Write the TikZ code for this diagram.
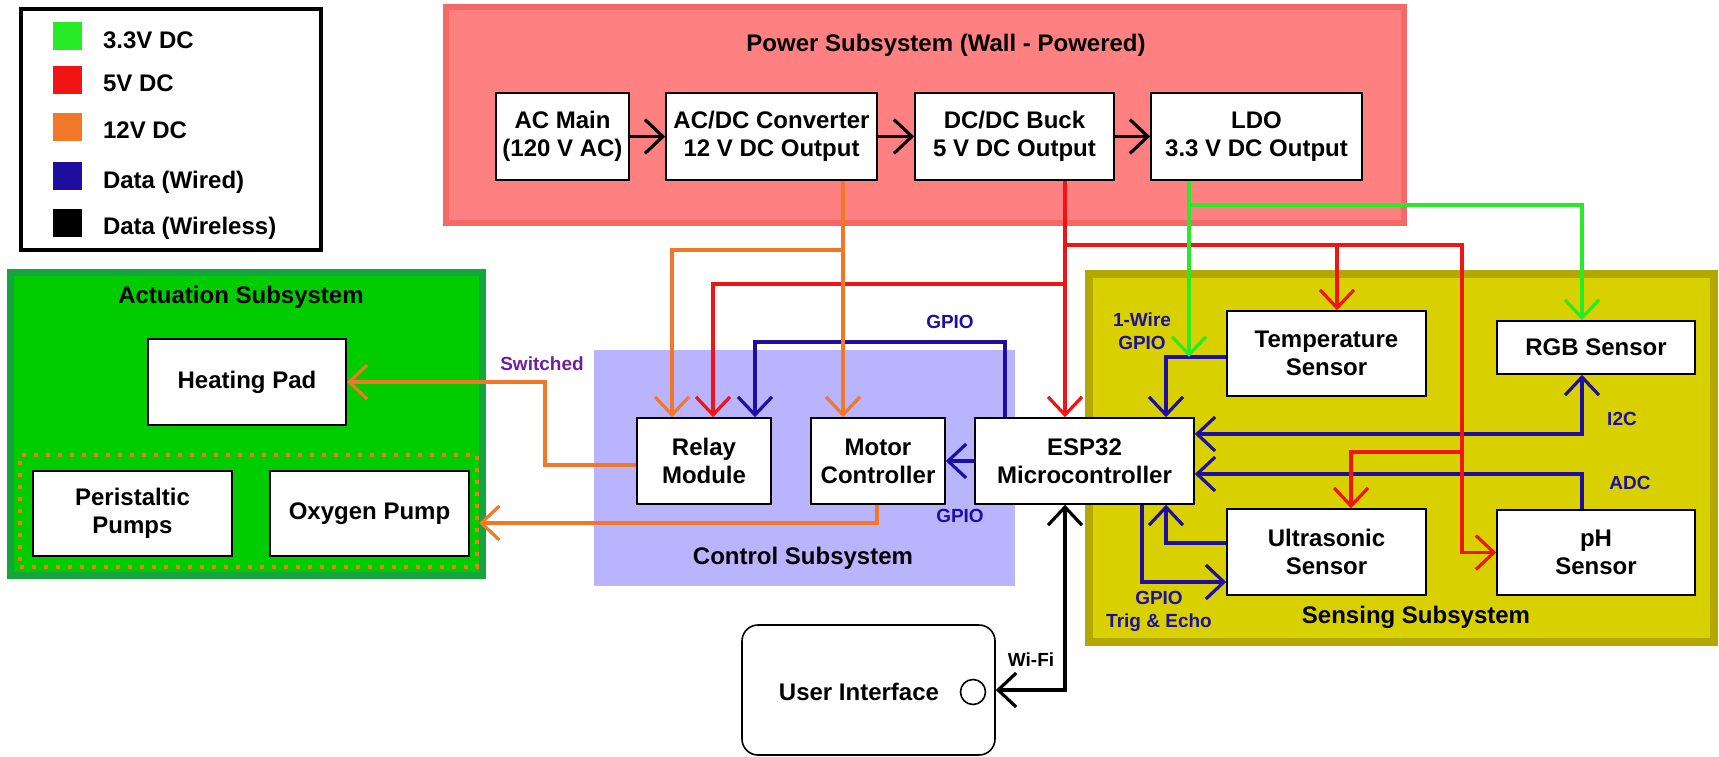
\documentclass[tikz,border=0pt]{standalone}
\usepackage{fontspec}
\setmainfont{Liberation Sans}
\usetikzlibrary{arrows.meta}
\definecolor{vthree}{RGB}{40,235,40}
\definecolor{vfive}{RGB}{240,20,20}
\definecolor{vtwelve}{RGB}{240,120,40}
\definecolor{wired}{RGB}{30,15,160}
\definecolor{switchcol}{RGB}{110,30,160}
\definecolor{powfill}{RGB}{255,128,128}
\definecolor{powline}{RGB}{244,104,104}
\definecolor{actfill}{RGB}{0,204,0}
\definecolor{actline}{RGB}{20,165,60}
\definecolor{ctrlfill}{RGB}{186,180,255}
\definecolor{sensfill}{RGB}{217,208,0}
\definecolor{sensline}{RGB}{180,168,0}
\tikzset{
  >={Straight Barb[length=9pt,width=17pt]},
  blk/.style={draw, fill=white, line width=0.8pt, align=center, inner sep=0pt,
    font=\bfseries\fontsize{12}{14}\selectfont},
  grptitle/.style={font=\bfseries\fontsize{12}{14}\selectfont},
  lbl/.style={font=\bfseries\fontsize{9.5}{11.5}\selectfont, text=wired, align=center},
  pumpgrp/.style={draw=vtwelve, line width=2pt, dash pattern=on 2pt off 4pt, inner sep=0pt},
  wire/.style={line width=1.6pt},
  pw3/.style={wire, draw=vthree},
  pw5/.style={wire, draw=vfive},
  pw12/.style={wire, draw=vtwelve},
  data/.style={wire, draw=wired},
  wless/.style={wire, draw=black}
}
\begin{document}
\begin{tikzpicture}[x=0.5pt, y=-0.5pt]
\useasboundingbox (0,0) rectangle (1719,756);
% subsystem panels
\draw[powline, fill=powfill, line width=3pt] (446,7) rectangle (1404,223);
\draw[actline, fill=actfill, line width=3.5pt] (10.5,272.5) rectangle (482.5,575.5);
\fill[ctrlfill] (594,350) rectangle (1015,586);
\draw[sensline, fill=sensfill, line width=4pt] (1089,274) rectangle (1714,642);
\node[grptitle] (powtitle) at (946,45) {Power Subsystem (Wall - Powered)};
\node[grptitle] (acttitle) at (241,297) {Actuation Subsystem};
\node[grptitle] (ctrltitle) at (803,558) {Control Subsystem};
\node[grptitle] (senstitle) at (1416,617) {Sensing Subsystem};
% legend
\draw[line width=2pt] (21,9) rectangle (321,250);
\foreach \i/\col/\txt/\yy in {1/vthree/3.3V DC/36, 2/vfive/5V DC/79.5, 3/vtwelve/12V DC/126.5,
    4/wired/Data (Wired)/176, 5/black/Data (Wireless)/222.5}{
  \node[fill=\col, minimum width=14.5pt, minimum height=14pt, inner sep=0pt] (sw\i) at (67.5,\yy) {};
  \node[grptitle, anchor=base west] (leg\i) at (96,\yy+12) {\txt};
}
% power chain
\node[blk, minimum width=66.5pt, minimum height=43.5pt] (acmain) at (562.5,136.5) {AC Main\\(120 V AC)};
\node[blk, minimum width=105.5pt, minimum height=43.5pt] (acdc) at (771.5,136.5) {AC/DC Converter\\12 V DC Output};
\node[blk, minimum width=99.5pt, minimum height=43.5pt] (dcdc) at (1014.5,136.5) {DC/DC Buck\\5 V DC Output};
\node[blk, minimum width=105.5pt, minimum height=43.5pt] (ldo) at (1256.5,136.5) {LDO\\3.3 V DC Output};
% control
\node[blk, minimum width=67pt, minimum height=43pt] (relay) at (704,461) {Relay\\Module};
\node[blk, minimum width=67pt, minimum height=43pt] (motor) at (878,461) {Motor\\Controller};
\node[blk, minimum width=109.5pt, minimum height=43pt] (esp) at (1084.5,461) {ESP32\\Microcontroller};
% actuation
\node[blk, minimum width=99pt, minimum height=43pt] (heat) at (247,382) {Heating Pad};
\node[pumpgrp, minimum width=228.5pt, minimum height=56pt] (pumps) at (248.5,511) {};
\node[blk, minimum width=99.5pt, minimum height=42.5pt] (peri) at (132.5,513.5) {Peristaltic\\Pumps};
\node[blk, minimum width=99.5pt, minimum height=42.5pt] (oxy) at (369.5,513.5) {Oxygen Pump};
% sensing
\node[blk, minimum width=99.5pt, minimum height=42.5pt] (temp) at (1326.5,353.5) {Temperature\\Sensor};
\node[blk, minimum width=99pt, minimum height=26.5pt] (rgb) at (1596,347.5) {RGB Sensor};
\node[blk, minimum width=99.5pt, minimum height=43pt] (ultra) at (1326.5,552) {Ultrasonic\\Sensor};
\node[blk, minimum width=99pt, minimum height=42.5pt] (ph) at (1596,552.5) {pH\\Sensor};
% user interface
\node[blk, rounded corners=8pt, minimum width=126.5pt, minimum height=65pt] (ui) at (868.5,690) {};
\node[grptitle] (uitext) at (859,692) {User Interface};
\node[draw, circle, line width=0.8pt, minimum size=12.5pt, inner sep=0pt] (uibtn) at (973,692) {};
% bends and junctions
\coordinate (oj) at (843,250);
\coordinate (orelay) at (672,250);
\coordinate (oheat) at (545,465);
\coordinate (oxyj) at (877,523);
\coordinate (rj) at (1065,245);
\coordinate (rrelay) at (713,284);
\coordinate (rtemp) at (1337,245);
\coordinate (rph) at (1462,245);
\coordinate (rultra) at (1351,452);
\coordinate (gj) at (1189,205);
\coordinate (grgb) at (1582,205);
\coordinate (bwire) at (1166,357);
\coordinate (bgpio) at (1005,342);
\coordinate (brelay) at (755,342);
\coordinate (bi2c) at (1582,434);
\coordinate (badc) at (1582,474);
\coordinate (becho) at (1166,543);
\coordinate (btrig) at (1142,582);
\coordinate (wifi) at (1065,690);
% power chain arrows
\draw[wless, ->] (acmain) -- (acdc);
\draw[wless, ->] (acdc) -- (dcdc);
\draw[wless, ->] (dcdc) -- (ldo);
% wired data
\draw[data, ->] (esp.north -| bgpio) -- (bgpio) -- (brelay) -- (relay.north -| brelay);
\draw[data, ->] (esp.west) -- (motor.east);
\draw[data, ->] (temp.west |- bwire) -- (bwire) -- (esp.north -| bwire);
\draw[data, <->] (esp.east |- bi2c) -- (bi2c) -- (rgb.south -| bi2c);
\draw[data, ->] (ph.north -| badc) -- (badc) -- (esp.east |- badc);
\draw[data, ->] (ultra.west |- becho) -- (becho) -- (esp.south -| becho);
\draw[data, ->] (esp.south -| btrig) -- (btrig) -- (ultra.west |- btrig);
% 5 V
\draw[pw5, ->] (dcdc.south -| rj) -- (esp.north -| rj);
\draw[pw5, ->] (rj |- rrelay) -- (rrelay) -- (relay.north -| rrelay);
\draw[pw5, ->] (rj) -- (rtemp) -- (temp.north -| rtemp);
\draw[pw5, ->] (rtemp) -- (rph) |- (ph.west);
\draw[pw5, ->] (rph |- rultra) -- (rultra) -- (ultra.north -| rultra);
% 3.3 V
\draw[pw3, ->] (ldo.south -| gj) -- (gj |- bwire);
\draw[pw3, ->] (gj) -- (grgb) -- (rgb.north -| grgb);
% 12 V
\draw[pw12, ->] (acdc.south -| oj) -- (motor.north -| oj);
\draw[pw12, ->] (oj) -- (orelay) -- (relay.north -| orelay);
\draw[pw12, ->] (relay.west |- oheat) -- (oheat) |- (heat.east);
\draw[pw12, ->] (motor.south -| oxyj) -- (oxyj) -- (pumps.east |- oxyj);
% wireless
\draw[wless, <->] (ui.east |- wifi) -- (wifi) -- (esp.south -| wifi);
% labels
\node[lbl, text=switchcol] (lswitch) at (542,364) {Switched};
\node[lbl] (lgpiorelay) at (950,322) {GPIO};
\node[lbl] (lgpiomotor) at (960,516) {GPIO};
\node[lbl] (lonewire) at (1142,331) {1-Wire\\GPIO};
\node[lbl] (ltrig) at (1159,611) {GPIO\\Trig \& Echo};
\node[lbl] (li2c) at (1622,419) {I2C};
\node[lbl] (ladc) at (1630,483) {ADC};
\node[lbl, text=black] (lwifi) at (1031,660) {Wi-Fi};
\end{tikzpicture}
\end{document}
